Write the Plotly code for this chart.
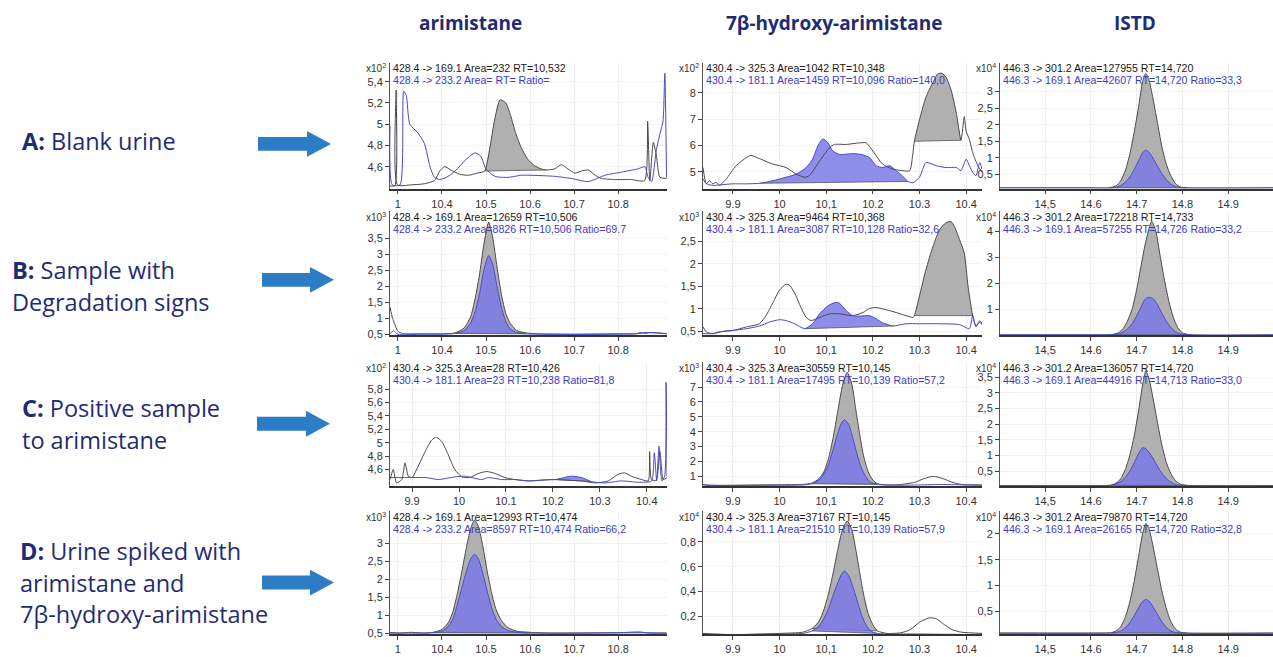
import plotly.graph_objects as go

W, H = 1273, 657

# ---------------------------------------------------------------- text content
COLUMN_TITLES = ["arimistane", "7β-hydroxy-arimistane", "ISTD"]
ROW_LABELS = [
    ["<b>A:</b> Blank urine"],
    ["<b>B:</b> Sample with", "Degradation signs"],
    ["<b>C:</b> Positive sample", "to arimistane"],
    ["<b>D:</b> Urine spiked with", "arimistane and", "7β-hydroxy-arimistane"],
]

# ---------------------------------------------------------------- chromatograms
# (retention time [min], intensity in units of the panel's x10^n multiplier)

# A: blank urine
A1_QUANT = [(10.282, 4.42), (10.293, 4.42), (10.296, 5.32), (10.299, 4.43), (10.33, 4.43), (10.36, 4.44),
            (10.383, 4.47), (10.395, 4.56), (10.406, 4.60), (10.42, 4.57), (10.44, 4.53), (10.46, 4.52),
            (10.48, 4.54), (10.497, 4.56), (10.508, 4.76), (10.52, 5.05), (10.532, 5.23), (10.545, 5.20),
            (10.556, 5.08), (10.567, 4.92), (10.58, 4.78), (10.595, 4.67), (10.61, 4.61), (10.625, 4.58),
            (10.637, 4.57), (10.656, 4.58), (10.671, 4.62), (10.686, 4.58), (10.702, 4.54), (10.717, 4.56),
            (10.732, 4.57), (10.748, 4.52), (10.762, 4.49), (10.79, 4.48), (10.83, 4.48), (10.86, 4.47),
            (10.867, 5.03), (10.872, 4.47), (10.88, 4.83), (10.887, 4.70), (10.895, 4.50), (10.91, 4.49)]
A1_QUAL = [(10.282, 4.98), (10.287, 4.43), (10.305, 4.43), (10.313, 5.31), (10.319, 5.27), (10.327, 5.00),
           (10.345, 4.92), (10.36, 4.82), (10.373, 4.60), (10.383, 4.50), (10.395, 4.48), (10.41, 4.50),
           (10.43, 4.56), (10.455, 4.67), (10.475, 4.73), (10.488, 4.70), (10.50, 4.58), (10.52, 4.51),
           (10.55, 4.50), (10.58, 4.52), (10.60, 4.52), (10.656, 4.51), (10.694, 4.49), (10.732, 4.46),
           (10.77, 4.52), (10.808, 4.55), (10.845, 4.58), (10.861, 4.60), (10.868, 4.50), (10.876, 4.46),
           (10.887, 4.76), (10.895, 4.91), (10.902, 5.03), (10.906, 5.48), (10.91, 4.50)]

A2_QUANT = [(9.836, 5.16), (9.843, 4.54), (9.85, 4.66), (9.857, 4.54), (9.864, 4.60), (9.871, 4.48),
            (9.886, 4.73), (9.907, 5.23), (9.929, 5.54), (9.939, 5.62), (9.957, 5.50), (9.986, 5.29),
            (10.014, 5.16), (10.036, 4.91), (10.054, 4.79), (10.064, 4.85), (10.086, 5.41), (10.107, 5.91),
            (10.118, 6.04), (10.143, 6.04), (10.171, 6.10), (10.186, 6.10), (10.20, 5.79), (10.221, 5.29),
            (10.243, 5.10), (10.264, 5.04), (10.279, 5.04), (10.286, 5.73), (10.289, 6.16), (10.30, 6.98),
            (10.314, 7.85), (10.329, 8.41), (10.339, 8.73), (10.348, 8.75), (10.357, 8.60), (10.368, 8.10),
            (10.379, 7.23), (10.389, 6.20), (10.396, 7.10), (10.40, 6.54), (10.407, 6.23), (10.414, 5.73),
            (10.425, 5.23), (10.434, 4.98)]
A2_QUAL = [(9.836, 4.73), (9.843, 4.55), (9.857, 4.48), (9.879, 4.51), (9.90, 4.54), (9.929, 4.54),
           (9.957, 4.56), (9.986, 4.66), (10.014, 4.79), (10.036, 4.91), (10.057, 5.16), (10.071, 5.48),
           (10.082, 5.98), (10.093, 6.25), (10.104, 6.10), (10.114, 5.79), (10.129, 5.66), (10.157, 5.69),
           (10.175, 5.66), (10.193, 5.54), (10.207, 5.23), (10.221, 5.16), (10.236, 5.23), (10.25, 5.04),
           (10.264, 4.83), (10.275, 4.63), (10.286, 4.58), (10.30, 4.79), (10.314, 5.35), (10.336, 5.23),
           (10.357, 5.16), (10.379, 5.16), (10.389, 5.04), (10.40, 5.48), (10.407, 5.23), (10.414, 4.98),
           (10.421, 4.85), (10.429, 5.35), (10.434, 5.10)]

A3_QUANT = [(14.40, 0.09), (14.60, 0.09), (14.64, 0.09), (14.655, 0.15), (14.665, 0.30), (14.675, 0.60),
            (14.685, 1.10), (14.695, 1.80), (14.705, 2.60), (14.713, 3.30), (14.72, 3.55), (14.727, 3.35),
            (14.735, 2.85), (14.745, 2.10), (14.755, 1.35), (14.765, 0.80), (14.775, 0.45), (14.785, 0.22),
            (14.795, 0.12), (14.81, 0.09), (15.0, 0.09)]
A3_QUAL = [(14.40, 0.09), (14.60, 0.09), (14.64, 0.09), (14.655, 0.11), (14.665, 0.16), (14.675, 0.26),
           (14.685, 0.42), (14.695, 0.65), (14.705, 0.93), (14.713, 1.15), (14.72, 1.23), (14.727, 1.17),
           (14.735, 1.00), (14.745, 0.76), (14.755, 0.52), (14.765, 0.34), (14.775, 0.20), (14.785, 0.13),
           (14.795, 0.10), (14.81, 0.09), (15.0, 0.09)]

# B: sample with degradation signs
B1_QUANT = [(10.282, 1.35), (10.288, 1.00), (10.30, 0.60), (10.31, 0.53), (10.35, 0.52), (10.40, 0.52),
            (10.43, 0.55), (10.45, 0.70), (10.465, 1.05), (10.475, 1.60), (10.485, 2.35), (10.495, 3.30),
            (10.506, 4.00), (10.515, 3.55), (10.525, 2.60), (10.535, 1.75), (10.545, 1.15), (10.555, 0.85),
            (10.57, 0.62), (10.59, 0.55), (10.62, 0.52), (10.70, 0.51), (10.80, 0.52), (10.84, 0.52),
            (10.85, 0.56), (10.86, 0.53), (10.875, 0.56), (10.91, 0.52)]
B1_QUAL = [(10.282, 0.52), (10.29, 0.62), (10.30, 0.50), (10.35, 0.51), (10.40, 0.51), (10.43, 0.53),
           (10.45, 0.62), (10.465, 0.85), (10.475, 1.20), (10.485, 1.75), (10.495, 2.50), (10.506, 2.96),
           (10.515, 2.70), (10.525, 2.00), (10.535, 1.35), (10.545, 0.90), (10.555, 0.68), (10.57, 0.56),
           (10.59, 0.52), (10.62, 0.51), (10.70, 0.50), (10.80, 0.51), (10.85, 0.53), (10.86, 0.56),
           (10.91, 0.53)]

B2_QUANT = [(9.836, 0.60), (9.843, 0.49), (9.857, 0.45), (9.879, 0.50), (9.90, 0.52), (9.929, 0.60),
            (9.957, 0.67), (9.971, 0.85), (9.986, 1.14), (10.0, 1.42), (10.014, 1.55), (10.021, 1.53),
            (10.032, 1.36), (10.046, 1.03), (10.057, 0.81), (10.068, 0.74), (10.086, 0.81), (10.107, 0.89),
            (10.129, 0.89), (10.157, 0.85), (10.179, 0.92), (10.193, 1.01), (10.207, 1.03), (10.229, 0.98),
            (10.25, 0.92), (10.271, 0.85), (10.286, 0.81), (10.289, 0.85), (10.30, 1.29), (10.314, 1.88),
            (10.329, 2.39), (10.343, 2.76), (10.357, 2.92), (10.368, 2.94), (10.375, 2.83), (10.386, 2.54),
            (10.396, 2.24), (10.404, 1.51), (10.411, 1.03), (10.414, 0.85), (10.421, 0.63), (10.429, 0.70),
            (10.434, 0.66)]
B2_QUAL = [(9.836, 0.45), (9.857, 0.45), (9.871, 0.49), (9.90, 0.52), (9.929, 0.56), (9.957, 0.62),
           (9.979, 0.71), (10.0, 0.76), (10.014, 0.74), (10.032, 0.67), (10.054, 0.56), (10.071, 0.67),
           (10.086, 0.89), (10.104, 1.07), (10.118, 1.14), (10.128, 1.13), (10.143, 0.96), (10.157, 0.85),
           (10.171, 0.84), (10.193, 0.85), (10.207, 0.78), (10.221, 0.69), (10.243, 0.62), (10.271, 0.67),
           (10.30, 0.67), (10.343, 0.67), (10.386, 0.65), (10.407, 0.56), (10.414, 0.85), (10.421, 0.60),
           (10.429, 0.74), (10.434, 0.68)]

B3_QUANT = [(14.40, 0.02), (14.62, 0.02), (14.645, 0.03), (14.66, 0.10), (14.67, 0.25), (14.68, 0.55),
            (14.69, 1.00), (14.70, 1.75), (14.71, 2.70), (14.72, 3.60), (14.733, 4.38), (14.742, 4.00),
            (14.75, 3.20), (14.76, 2.20), (14.77, 1.35), (14.78, 0.70), (14.79, 0.30), (14.80, 0.10),
            (14.815, 0.03), (15.0, 0.02)]
B3_QUAL = [(14.40, 0.02), (14.62, 0.02), (14.645, 0.02), (14.66, 0.06), (14.67, 0.13), (14.68, 0.25),
           (14.69, 0.45), (14.70, 0.75), (14.71, 1.10), (14.718, 1.38), (14.726, 1.46), (14.735, 1.42),
           (14.745, 1.20), (14.755, 0.85), (14.765, 0.55), (14.775, 0.30), (14.785, 0.14), (14.795, 0.06),
           (14.81, 0.02), (15.0, 0.02)]

# C: positive sample to arimistane
C1_QUANT = [(9.853, 4.45), (9.86, 4.60), (9.867, 4.40), (9.878, 4.45), (9.885, 4.70), (9.892, 4.50),
            (9.90, 4.48), (9.913, 4.65), (9.928, 4.87), (9.942, 5.04), (9.952, 5.08), (9.963, 5.02),
            (9.977, 4.82), (9.991, 4.60), (10.006, 4.49), (10.023, 4.48), (10.041, 4.54), (10.059, 4.57),
            (10.077, 4.54), (10.098, 4.48), (10.119, 4.45), (10.148, 4.43), (10.176, 4.44), (10.204, 4.45),
            (10.233, 4.44), (10.261, 4.43), (10.289, 4.40), (10.318, 4.43), (10.339, 4.53), (10.353, 4.55),
            (10.367, 4.50), (10.389, 4.45), (10.403, 4.43), (10.406, 4.87), (10.41, 4.45), (10.42, 4.44),
            (10.428, 4.87), (10.435, 4.45), (10.443, 4.48)]
C1_QUAL = [(9.853, 4.48), (9.90, 4.48), (9.93, 4.48), (9.956, 4.45), (9.991, 4.49), (10.013, 4.50),
           (10.048, 4.45), (10.062, 4.48), (10.091, 4.45), (10.12, 4.45), (10.148, 4.43), (10.19, 4.45),
           (10.205, 4.45), (10.218, 4.47), (10.238, 4.50), (10.261, 4.48), (10.282, 4.42), (10.311, 4.40),
           (10.346, 4.43), (10.382, 4.41), (10.41, 4.43), (10.416, 4.85), (10.421, 4.43), (10.426, 4.95),
           (10.432, 4.43), (10.438, 4.50), (10.441, 5.90), (10.443, 4.50)]

C2_QUANT = [(9.836, 0.45), (9.85, 0.38), (9.90, 0.40), (9.95, 0.42), (10.0, 0.43), (10.05, 0.45),
            (10.07, 0.55), (10.085, 0.85), (10.095, 1.30), (10.105, 2.20), (10.115, 3.60), (10.125, 5.40),
            (10.135, 7.10), (10.145, 8.00), (10.155, 7.20), (10.163, 5.60), (10.172, 3.80), (10.18, 2.40),
            (10.19, 1.30), (10.20, 0.75), (10.21, 0.50), (10.23, 0.42), (10.26, 0.45), (10.29, 0.60),
            (10.31, 0.85), (10.33, 1.00), (10.35, 0.85), (10.37, 0.60), (10.39, 0.45), (10.41, 0.42),
            (10.434, 0.42)]
C2_QUAL = [(9.836, 0.42), (9.90, 0.38), (10.0, 0.40), (10.05, 0.42), (10.07, 0.50), (10.085, 0.75),
           (10.095, 1.15), (10.105, 1.80), (10.115, 2.80), (10.125, 3.90), (10.133, 4.60), (10.139, 4.80),
           (10.148, 4.50), (10.157, 3.60), (10.166, 2.50), (10.175, 1.60), (10.185, 0.95), (10.195, 0.60),
           (10.21, 0.45), (10.25, 0.40), (10.30, 0.42), (10.35, 0.45), (10.40, 0.42), (10.434, 0.40)]

C3_QUANT = [(14.40, 0.04), (14.62, 0.04), (14.645, 0.06), (14.655, 0.12), (14.665, 0.25), (14.675, 0.55),
            (14.685, 1.00), (14.695, 1.65), (14.705, 2.50), (14.713, 3.25), (14.72, 3.70), (14.727, 3.45),
            (14.735, 2.90), (14.745, 2.10), (14.755, 1.35), (14.765, 0.78), (14.775, 0.42), (14.785, 0.20),
            (14.795, 0.09), (14.81, 0.05), (15.0, 0.04)]
C3_QUAL = [(14.40, 0.04), (14.62, 0.04), (14.645, 0.05), (14.655, 0.10), (14.665, 0.17), (14.675, 0.30),
           (14.685, 0.50), (14.695, 0.78), (14.705, 1.08), (14.713, 1.25), (14.72, 1.22), (14.73, 1.05),
           (14.74, 0.80), (14.75, 0.55), (14.76, 0.35), (14.77, 0.20), (14.78, 0.11), (14.79, 0.06),
           (14.805, 0.04), (15.0, 0.04)]

# D: urine spiked with both analytes
D1_QUANT = [(10.282, 0.52), (10.30, 0.50), (10.33, 0.52), (10.36, 0.50), (10.38, 0.52), (10.40, 0.60),
            (10.415, 0.80), (10.425, 1.10), (10.435, 1.60), (10.445, 2.20), (10.455, 2.85), (10.465, 3.40),
            (10.474, 3.64), (10.483, 3.45), (10.493, 2.90), (10.503, 2.20), (10.513, 1.60), (10.523, 1.15),
            (10.535, 0.85), (10.55, 0.65), (10.57, 0.55), (10.60, 0.52), (10.65, 0.50), (10.70, 0.50),
            (10.80, 0.51), (10.85, 0.53), (10.87, 0.50), (10.91, 0.50)]
D1_QUAL = [(10.282, 0.50), (10.30, 0.50), (10.35, 0.50), (10.38, 0.51), (10.40, 0.55), (10.415, 0.70),
           (10.425, 0.90), (10.435, 1.30), (10.445, 1.75), (10.455, 2.20), (10.465, 2.55), (10.474, 2.69),
           (10.483, 2.55), (10.493, 2.15), (10.503, 1.65), (10.513, 1.20), (10.523, 0.88), (10.535, 0.68),
           (10.55, 0.57), (10.57, 0.52), (10.60, 0.50), (10.70, 0.50), (10.85, 0.51), (10.91, 0.50)]

D2_QUANT = [(9.836, 0.06), (9.90, 0.05), (10.0, 0.06), (10.05, 0.07), (10.07, 0.10), (10.085, 0.16),
            (10.095, 0.25), (10.105, 0.38), (10.115, 0.55), (10.125, 0.74), (10.135, 0.90), (10.145, 0.97),
            (10.155, 0.90), (10.163, 0.75), (10.172, 0.55), (10.18, 0.38), (10.19, 0.22), (10.20, 0.13),
            (10.21, 0.08), (10.23, 0.06), (10.26, 0.065), (10.28, 0.09), (10.30, 0.15), (10.32, 0.185),
            (10.335, 0.18), (10.35, 0.14), (10.37, 0.09), (10.39, 0.07), (10.434, 0.06)]
D2_QUAL = [(9.836, 0.05), (9.90, 0.05), (10.0, 0.055), (10.05, 0.06), (10.07, 0.08), (10.085, 0.12),
           (10.095, 0.18), (10.105, 0.26), (10.115, 0.37), (10.125, 0.47), (10.133, 0.54), (10.139, 0.565),
           (10.148, 0.53), (10.157, 0.44), (10.166, 0.33), (10.175, 0.22), (10.185, 0.13), (10.195, 0.08),
           (10.21, 0.06), (10.30, 0.055), (10.434, 0.05)]

D3_QUANT = [(14.40, 0.08), (14.62, 0.08), (14.645, 0.09), (14.655, 0.12), (14.665, 0.20), (14.675, 0.38),
            (14.685, 0.68), (14.695, 1.10), (14.705, 1.60), (14.713, 2.00), (14.72, 2.20), (14.727, 2.10),
            (14.735, 1.80), (14.745, 1.35), (14.755, 0.90), (14.765, 0.55), (14.775, 0.30), (14.785, 0.16),
            (14.795, 0.10), (14.81, 0.08), (15.0, 0.08)]
D3_QUAL = [(14.40, 0.08), (14.62, 0.08), (14.645, 0.08), (14.655, 0.09), (14.665, 0.12), (14.675, 0.18),
           (14.685, 0.28), (14.695, 0.42), (14.705, 0.58), (14.713, 0.69), (14.72, 0.73), (14.727, 0.70),
           (14.735, 0.60), (14.745, 0.45), (14.755, 0.30), (14.765, 0.19), (14.775, 0.12), (14.785, 0.09),
           (14.80, 0.08), (15.0, 0.08)]

# integrated peak windows (start, end) per transition; None = not integrated
PEAKS = {
    "A1": ((10.497, 10.637), None),
    "A2": ((10.289, 10.389), (9.957, 10.275)),
    "A3": ((14.64, 14.81), (14.64, 14.81)),
    "B1": ((10.43, 10.59), (10.43, 10.59)),
    "B2": ((10.289, 10.414), (10.054, 10.243)),
    "B3": ((14.645, 14.815), (14.645, 14.81)),
    "C1": (None, (10.205, 10.282)),
    "C2": ((10.07, 10.21), (10.07, 10.21)),
    "C3": ((14.645, 14.81), (14.645, 14.805)),
    "D1": ((10.38, 10.61), (10.38, 10.61)),
    "D2": ((10.058, 10.222), (10.058, 10.222)),
    "D3": ((14.645, 14.81), (14.645, 14.81)),
}

# transition headers printed in each panel
HEADERS = {
    "A1": ("428.4 -> 169.1 Area=232 RT=10,532", "428.4 -> 233.2 Area= RT= Ratio="),
    "A2": ("430.4 -> 325.3 Area=1042 RT=10,348", "430.4 -> 181.1 Area=1459 RT=10,096 Ratio=140,0"),
    "A3": ("446.3 -> 301.2 Area=127955 RT=14,720", "446.3 -> 169.1 Area=42607 RT=14,720 Ratio=33,3"),
    "B1": ("428.4 -> 169.1 Area=12659 RT=10,506", "428.4 -> 233.2 Area=8826 RT=10,506 Ratio=69.7"),
    "B2": ("430.4 -> 325.3 Area=9464 RT=10,368", "430.4 -> 181.1 Area=3087 RT=10,128 Ratio=32,6"),
    "B3": ("446.3 -> 301.2 Area=172218 RT=14,733", "446.3 -> 169.1 Area=57255 RT=14,726 Ratio=33,2"),
    "C1": ("430.4 -> 325.3 Area=28 RT=10,426", "430.4 -> 181.1 Area=23 RT=10,238 Ratio=81,8"),
    "C2": ("430.4 -> 325.3 Area=30559 RT=10,145", "430.4 -> 181.1 Area=17495 RT=10,139 Ratio=57,2"),
    "C3": ("446.3 -> 301.2 Area=136057 RT=14,720", "446.3 -> 169.1 Area=44916 RT=14,713 Ratio=33,0"),
    "D1": ("428.4 -> 169.1 Area=12993 RT=10,474", "428.4 -> 233.2 Area=8597 RT=10,474 Ratio=66,2"),
    "D2": ("430.4 -> 325.3 Area=37167 RT=10,145", "430.4 -> 181.1 Area=21510 RT=10,139 Ratio=57,9"),
    "D3": ("446.3 -> 301.2 Area=79870 RT=14,720", "446.3 -> 169.1 Area=26165 RT=14,720 Ratio=32,8"),
}

# intensity multiplier exponents (x10^n)
EXPONENTS = {"A1": 2, "A2": 2, "A3": 4, "B1": 3, "B2": 3, "B3": 4,
             "C1": 2, "C2": 3, "C3": 4, "D1": 3, "D2": 4, "D3": 4}

# tick values and labels
X_TICKS_ARI = [10.3, 10.4, 10.5, 10.6, 10.7, 10.8]
X_TEXT_ARI = ["1", "10.4", "10.5", "10.6", "10.7", "10.8"]
X_TICKS_HYD = [9.9, 10.0, 10.1, 10.2, 10.3, 10.4]
X_TEXT_HYD = ["9.9", "10", "10,1", "10.2", "10.3", "10.4"]
X_TEXT_C1 = ["9.9", "10", "10.1", "10.2", "10.3", "10.4"]
X_TICKS_IS = [14.5, 14.6, 14.7, 14.8, 14.9]
X_TEXT_IS = ["14,5", "14.6", "14.7", "14.8", "14.9"]

Y_TICKS = {
    "A1": [4.6, 4.8, 5.0, 5.2, 5.4],
    "A2": [5, 6, 7, 8],
    "A3": [0.5, 1, 1.5, 2, 2.5, 3],
    "B1": [0.5, 1, 1.5, 2, 2.5, 3, 3.5],
    "B2": [0.5, 1, 1.5, 2, 2.5],
    "B3": [1, 2, 3, 4],
    "C1": [4.6, 4.8, 5.0, 5.2, 5.4, 5.6, 5.8],
    "C2": [1, 2, 3, 4, 5, 6, 7],
    "C3": [0.5, 1, 1.5, 2, 2.5, 3, 3.5],
    "D1": [0.5, 1, 1.5, 2, 2.5, 3],
    "D2": [0.2, 0.4, 0.6, 0.8],
    "D3": [0.5, 1, 1.5, 2],
}

# ---------------------------------------------------------------- layout geometry (pixels)
COL_X = [(390, 667), (703, 982), (1000, 1273)]
ROW_Y = [(63, 190), (213, 338), (365, 490), (515, 639)]
X_RANGE = [(10.282, 10.911), (9.836, 10.434), (14.4015, 14.998)]
X_RANGE_C1 = (9.853, 10.443)
Y_RANGE = {
    "A1": (4.395, 5.58), "A2": (4.36, 9.16), "A3": (0.07, 3.88),
    "B1": (0.47, 4.34), "B2": (0.41, 3.17), "B3": (0.0, 4.76),
    "C1": (4.35, 6.2), "C2": (0.33, 8.67), "C3": (0.02, 3.98),
    "D1": (0.47, 3.89), "D2": (0.054, 1.05), "D3": (0.06, 2.44),
}

SERIES = {
    "A1": (A1_QUANT, A1_QUAL), "A2": (A2_QUANT, A2_QUAL), "A3": (A3_QUANT, A3_QUAL),
    "B1": (B1_QUANT, B1_QUAL), "B2": (B2_QUANT, B2_QUAL), "B3": (B3_QUANT, B3_QUAL),
    "C1": (C1_QUANT, C1_QUAL), "C2": (C2_QUANT, C2_QUAL), "C3": (C3_QUANT, C3_QUAL),
    "D1": (D1_QUANT, D1_QUAL), "D2": (D2_QUANT, D2_QUAL), "D3": (D3_QUANT, D3_QUAL),
}

NAVY = "#1f2c74"
ARROW_BLUE = "#2d7cc6"
GRAY_LINE = "#4a4a4a"
BLUE_LINE = "#4848cc"
GRAY_FILL = "rgba(162,162,162,0.85)"
BLUE_FILL = "rgba(122,122,230,0.85)"
TEXT_FONT = "Liberation Sans, Arial, sans-serif"


def fx(p):
    return p / W


def fy(p):
    return 1 - p / H


def fmt_tick(v):
    s = f"{v:g}"
    return s.replace(".", ",")


fig = go.Figure()
annotations = []
shapes = []
layout_axes = {}

for r, row_key in enumerate("ABCD"):
    for c in range(3):
        key = f"{row_key}{c + 1}"
        n = r * 3 + c + 1
        xs = "x" if n == 1 else f"x{n}"
        ys = "y" if n == 1 else f"y{n}"
        quant, qual = SERIES[key]
        win_quant, win_qual = PEAKS[key]

        # filled (integrated) peak areas
        for pts, win, fill in ((quant, win_quant, GRAY_FILL), (qual, win_qual, BLUE_FILL)):
            if win is None:
                continue
            seg = [p for p in pts if win[0] - 1e-9 <= p[0] <= win[1] + 1e-9]
            fig.add_trace(go.Scatter(
                x=[p[0] for p in seg], y=[p[1] for p in seg], xaxis=xs, yaxis=ys,
                mode="lines", fill="toself", fillcolor=fill,
                line=dict(width=0, shape="spline", smoothing=0.6),
                hoverinfo="skip", showlegend=False))
            # integration baseline joining the window ends
            fig.add_trace(go.Scatter(
                x=[seg[0][0], seg[-1][0]], y=[seg[0][1], seg[-1][1]], xaxis=xs, yaxis=ys,
                mode="lines", line=dict(color="#555555", width=0.8),
                hoverinfo="skip", showlegend=False))

        # full chromatogram traces
        for pts, color in ((quant, GRAY_LINE), (qual, BLUE_LINE)):
            fig.add_trace(go.Scatter(
                x=[p[0] for p in pts], y=[p[1] for p in pts], xaxis=xs, yaxis=ys,
                mode="lines", line=dict(color=color, width=1, shape="spline", smoothing=0.6),
                hoverinfo="skip", showlegend=False))

        x0, x1 = COL_X[c]
        y0, y1 = ROW_Y[r]
        if c == 0 and row_key == "C":
            xr, xt, xtt = X_RANGE_C1, X_TICKS_HYD, X_TEXT_C1
        elif c == 0:
            xr, xt, xtt = X_RANGE[0], X_TICKS_ARI, X_TEXT_ARI
        elif c == 1:
            xr, xt, xtt = X_RANGE[1], X_TICKS_HYD, X_TEXT_HYD
        else:
            xr, xt, xtt = X_RANGE[2], X_TICKS_IS, X_TEXT_IS

        axis_font = dict(family=TEXT_FONT, size=11, color="#333333")
        layout_axes["xaxis" if n == 1 else f"xaxis{n}"] = dict(
            domain=[fx(x0), fx(x1)], range=list(xr), anchor=ys,
            tickvals=xt, ticktext=xtt, tickfont=axis_font,
            ticks="outside", ticklen=4, tickcolor="#444", showline=True,
            linecolor="#333333", linewidth=1.5, showgrid=True, gridcolor="#efefef",
            zeroline=False, fixedrange=True)
        yt = Y_TICKS[key]
        layout_axes["yaxis" if n == 1 else f"yaxis{n}"] = dict(
            domain=[fy(y1), fy(y0)], range=list(Y_RANGE[key]), anchor=xs,
            tickvals=yt, ticktext=[fmt_tick(v) for v in yt], tickfont=axis_font,
            ticks="outside", ticklen=4, tickcolor="#444", showline=True,
            linecolor="#555555", linewidth=1, showgrid=True, gridcolor="#f2f2f2",
            zeroline=False, fixedrange=True)

        # multiplier label
        annotations.append(dict(
            xref="paper", yref="paper", x=fx(x0 - 2), y=fy(y0 + 6), xanchor="right", yanchor="middle",
            text=f"x10<sup>{EXPONENTS[key]}</sup>", showarrow=False,
            font=dict(family=TEXT_FONT, size=10, color="#333333")))
        # transition headers
        top_line, bottom_line = HEADERS[key]
        annotations.append(dict(
            xref="paper", yref="paper", x=fx(x0 + 1), y=fy(y0 + 6), xanchor="left", yanchor="middle",
            text=top_line, showarrow=False, font=dict(family=TEXT_FONT, size=10.6, color="#1a1a1a")))
        annotations.append(dict(
            xref="paper", yref="paper", x=fx(x0 + 1), y=fy(y0 + 18), xanchor="left", yanchor="middle",
            text=bottom_line, showarrow=False, font=dict(family=TEXT_FONT, size=10.6, color="#3c3cc8")))

# column titles
for title, cx in zip(COLUMN_TITLES, (470, 834, 1135)):
    annotations.append(dict(
        xref="paper", yref="paper", x=fx(cx), y=fy(23), xanchor="center", yanchor="middle",
        text=f"<b>{title}</b>", showarrow=False,
        font=dict(family="Open Sans, sans-serif", size=19, color=NAVY)))

# row labels
LABEL_POS = [(20, [142]), (10, [272, 304]), (20, [411, 443]), (18, [555, 587, 619])]
for lines, (lx, ly_list) in zip(ROW_LABELS, LABEL_POS):
    for line, ly in zip(lines, ly_list):
        annotations.append(dict(
            xref="paper", yref="paper", x=fx(lx), y=fy(ly), xanchor="left", yanchor="middle",
            text=line, showarrow=False,
            font=dict(family="Open Sans, sans-serif", size=23.5, color=NAVY)))

# block arrows pointing at each row
ARROWS = [(258, 331, 145), (262, 334, 282), (257, 330, 427), (262, 334, 587)]
for ax0, ax1, acy in ARROWS:
    head = ax1 - 24
    pts = [(ax0, acy - 7), (head, acy - 7), (head, acy - 13), (ax1, acy),
           (head, acy + 13), (head, acy + 7), (ax0, acy + 7)]
    path = "M " + " L ".join(f"{fx(px):.5f},{fy(py):.5f}" for px, py in pts) + " Z"
    shapes.append(dict(type="path", xref="paper", yref="paper", path=path,
                       fillcolor=ARROW_BLUE, line=dict(width=0)))

fig.update_layout(
    width=W, height=H, margin=dict(l=0, r=0, t=0, b=0),
    paper_bgcolor="white", plot_bgcolor="white", showlegend=False,
    annotations=annotations, shapes=shapes, **layout_axes)

fig.write_html("out.html")
